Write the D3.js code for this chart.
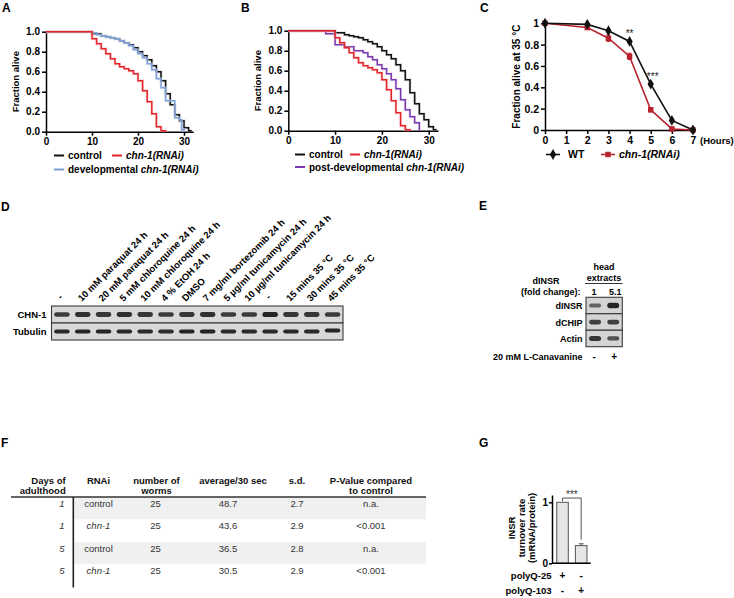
<!DOCTYPE html>
<html><head><meta charset="utf-8">
<script src="https://cdn.jsdelivr.net/npm/d3@7"></script>
<style>
body{margin:0;background:#fff;}
svg text{font-family:"Liberation Sans",Arial,Helvetica,sans-serif;}
</style></head><body>
<svg id="fig" width="734" height="598"></svg>
<script>
// ---------------- DATA ----------------
// Panels A/B: Kaplan-Meier survival (days of adulthood vs fraction alive)
const controlDays = [0,10,12,13,14,15,16,17,18,19,20,21,22,23,24,25,26,27,28,29,30,31,31.5];
const controlSurv = [1,0.98,0.96,0.95,0.94,0.93,0.91,0.89,0.87,0.84,0.80,0.76,0.72,0.66,0.60,0.51,0.38,0.27,0.17,0.11,0.04,0.01,0];
const chnDays = [0,10,11,12,13,14,15,16,17,18,19,20,21,22,23,24,25,26];
const chnSurv = [1,0.93,0.88,0.83,0.78,0.73,0.68,0.65,0.63,0.61,0.58,0.51,0.41,0.30,0.18,0.05,0.01,0];
const devDays = [0,10,11,12,13,14,15,16,17,18,19,20,21,22,23,24,25,26,28,29,29.5,30];
const devSurv = [1,0.99,0.97,0.96,0.95,0.94,0.93,0.91,0.89,0.86,0.82,0.78,0.74,0.68,0.62,0.53,0.44,0.31,0.14,0.12,0.02,0];
const postDays = [0,8,10,12,14,16,17,18,19,20,21,22,23,24,25,26,27,28];
const postSurv = [1,0.97,0.86,0.84,0.80,0.78,0.74,0.71,0.66,0.62,0.57,0.51,0.42,0.31,0.21,0.14,0.08,0];
const survTicksX = [0,10,20,30];
const survTicksY = [0,0.2,0.4,0.6,0.8,1.0];

// Panel C: heat stress survival
const heatHours = [0,2,3,4,5,6,7];
const heatWT = [1,0.99,0.93,0.83,0.43,0.09,0];
const heatWTerr = [0,0.01,0.01,0.01,0.015,0.01,0];
const heatChn = [1,0.96,0.86,0.69,0.19,0.01,0];
const heatChnErr = [0,0.015,0.03,0.03,0.02,0.01,0];
const heatTicksX = [0,1,2,3,4,5,6,7];
const heatTicksY = [0,0.2,0.4,0.6,0.8,1];
const heatSigHours = [4,5];
const heatSigY = [0.87,0.47];
const heatSigLabels = ["**","***"];

// Panel D: western blot
const blotDLanes = ["-","10 mM paraquat 24 h","20 mM paraquat 24 h","5 mM chloroquine 24 h","10 mM chloroquine 24 h","4 % EtOH 24 h","DMSO","7 mg/ml bortezomib 24 h","5 \u00b5g/ml tunicamycin 24 h","10 \u00b5g/ml tunicamycin 24 h","-","15 mins 35 \u00b0C","30 mins 35 \u00b0C","45 mins 35 \u00b0C"];
const blotDRows = ["CHN-1","Tubulin"];
const chnBand = [0.80,0.90,0.85,0.90,0.85,0.80,0.85,0.90,0.80,0.80,1.00,0.85,0.85,0.80];
const tubBand = [0.95,1.00,1.00,0.95,0.95,0.92,1.00,1.00,0.95,0.95,0.95,0.95,0.95,1.00];

// Panel E: western blot
const blotELanes = ["-","+"];
const blotEFold = ["1","5.1"];
const blotERows = ["dINSR","dCHIP","Actin"];
const dinsrBand = [0.45,1.0];
const dchipBand = [0.75,0.75];
const actinBand = [0.85,0.6];

// Panel F: table
const tableHeaders = [["Days of","adulthood"],["RNAi"],["number of","worms"],["average/30 sec"],["s.d."],["P-Value compared","to control"]];
const tblDays = ["1","1","5","5"];
const tblRNAi = ["control","chn-1","control","chn-1"];
const tblWorms = ["25","25","25","25"];
const tblAvg = ["48.7","43.6","36.5","30.5"];
const tblSD = ["2.7","2.9","2.8","2.9"];
const tblP = ["n.a.","<0.001","n.a.","<0.001"];

// Panel G: bar chart
const barGroups = ["polyQ-25","polyQ-103"];
const barValues = [1.0,0.29];
const barErrors = [0,0.03];
const polyQ25 = ["+","-"];
const polyQ103 = ["-","+"];

// ---------------- DRAW ----------------
const svg = d3.select("#fig");
svg.append("rect").attr("width",734).attr("height",598).attr("fill","#fff");

const BLACK="#111", RED="#e3242b", BLUE="#7f9fd8", PURPLE="#7a3aae", DRED="#b8222e";

function panelLabel(t,x,y){
  svg.append("text").attr("x",x).attr("y",y).attr("font-size",12).attr("font-weight","bold").text(t);
}
panelLabel("A",2,12); panelLabel("B",241,12); panelLabel("C",480,12);
panelLabel("D",1,211); panelLabel("E",479,210); panelLabel("F",1,447); panelLabel("G",479,447);

function styleAxis(g){
  g.selectAll("path.domain").attr("stroke","#000").attr("stroke-width",1.5);
  g.selectAll(".tick line").attr("stroke","#000").attr("stroke-width",1.5);
  g.selectAll(".tick text").attr("font-size",10).attr("font-weight","bold")
   .attr("font-family","'Liberation Sans',Arial,sans-serif").attr("fill","#000");
}

function survivalPanel(cfg){
  const x = d3.scaleLinear().domain([0,32]).range([cfg.x0, cfg.x0 + 32*cfg.dx]);
  const y = d3.scaleLinear().domain([0,1]).range([cfg.y0, cfg.y1]);
  const gx = svg.append("g").attr("transform",`translate(0,${cfg.y0})`)
    .call(d3.axisBottom(x).tickValues(survTicksX).tickFormat(d3.format("d")).tickSize(4).tickSizeOuter(0).tickPadding(2));
  styleAxis(gx);
  const gy = svg.append("g").attr("transform",`translate(${cfg.x0},0)`)
    .call(d3.axisLeft(y).tickValues(survTicksY).tickFormat(d3.format(".1f")).tickSize(4).tickSizeOuter(0).tickPadding(2));
  styleAxis(gy);
  svg.append("text").attr("transform",`translate(${cfg.ylabX},${(cfg.y0+cfg.y1)/2}) rotate(-90)`)
    .attr("text-anchor","middle").attr("font-size",9.5).attr("font-weight","bold").text("Fraction alive");
  const line = d3.line().x(d=>x(d[0])).y(d=>y(d[1])).curve(d3.curveStepAfter);
  cfg.series.forEach(s=>{
    const pts = s.days.map((d,i)=>[d,s.surv[i]]);
    svg.append("path").attr("d",line(pts)).attr("fill","none").attr("stroke",s.halo)
      .attr("stroke-width",3).attr("opacity",0.45);
    svg.append("path").attr("d",line(pts)).attr("fill","none").attr("stroke",s.color)
      .attr("stroke-width",1.5);
  });
  cfg.legend.forEach(l=>{
    svg.append("line").attr("x1",l.x).attr("x2",l.x+10).attr("y1",l.y-3.5).attr("y2",l.y-3.5)
      .attr("stroke",l.color).attr("stroke-width",2);
    const t = svg.append("text").attr("x",l.x+14).attr("y",l.y).attr("font-size",10).attr("font-weight","bold");
    if(l.pre) t.append("tspan").text(l.pre);
    t.append("tspan").attr("font-style","italic").text(l.it||"");
    if(l.plain) t.text(l.plain);
  });
}

survivalPanel({x0:46,dx:4.6,y0:131.7,y1:31.7,ylabX:19,
  series:[
    {days:controlDays,surv:controlSurv,color:BLACK,halo:"#bbb"},
    {days:devDays,surv:devSurv,color:BLUE,halo:"#cfdcf2"},
    {days:chnDays,surv:chnSurv,color:RED,halo:"#f6b6b8"}
  ],
  legend:[
    {x:54,y:159,color:BLACK,plain:"control"},
    {x:112,y:159,color:RED,it:"chn-1(RNAi)"},
    {x:54,y:173,color:BLUE,pre:"developmental ",it:"chn-1(RNAi)"}
  ]});

survivalPanel({x0:288.3,dx:4.68,y0:130.7,y1:30.7,ylabX:261,
  series:[
    {days:controlDays,surv:controlSurv,color:BLACK,halo:"#bbb"},
    {days:postDays,surv:postSurv,color:PURPLE,halo:"#d7c3ea"},
    {days:chnDays,surv:chnSurv,color:RED,halo:"#f6b6b8"}
  ],
  legend:[
    {x:295,y:158,color:BLACK,plain:"control"},
    {x:350,y:158,color:RED,it:"chn-1(RNAi)"},
    {x:295,y:170.5,color:PURPLE,pre:"post-developmental ",it:"chn-1(RNAi)"}
  ]});

// ---- Panel C ----
(function(){
  const x = d3.scaleLinear().domain([0,7]).range([545,693]);
  const y = d3.scaleLinear().domain([0,1]).range([130,23.3]);
  const gx = svg.append("g").attr("transform","translate(0,130)")
    .call(d3.axisBottom(x).tickValues(heatTicksX).tickFormat(d3.format("d")).tickSize(4).tickSizeOuter(0).tickPadding(3));
  styleAxis(gx); gx.selectAll(".tick text").attr("font-size",10.5);
  const gy = svg.append("g").attr("transform","translate(545,0)")
    .call(d3.axisLeft(y).tickValues(heatTicksY).tickFormat(d=>d===0||d===1?d3.format("d")(d):d3.format(".1f")(d)).tickSize(4).tickSizeOuter(0).tickPadding(2));
  styleAxis(gy); gy.selectAll(".tick text").attr("font-size",10.5);
  svg.append("text").attr("x",700).attr("y",143.5).attr("font-size",9.5).attr("font-weight","bold").text("(Hours)");
  svg.append("text").attr("transform",`translate(520,${(130+23.3)/2}) rotate(-90)`)
    .attr("text-anchor","middle").attr("font-size",10).attr("font-weight","bold").text("Fraction alive at 35 \u00b0C");
  const line = d3.line().x(d=>x(d[0])).y(d=>y(d[1]));
  const series = [
    {v:heatWT,e:heatWTerr,color:BLACK,sym:d3.symbolDiamond,size:34},
    {v:heatChn,e:heatChnErr,color:DRED,sym:d3.symbolSquare,size:30}
  ];
  series.slice().reverse().forEach(s=>{
    const pts = heatHours.map((h,i)=>[h,s.v[i]]);
    svg.append("path").attr("d",line(pts)).attr("fill","none").attr("stroke",s.color).attr("stroke-width",1.6);
    heatHours.forEach((h,i)=>{
      if(s.e[i]>0){
        const cx=x(h);
        svg.append("path").attr("d",`M${cx-2},${y(s.v[i]+s.e[i])}H${cx+2}M${cx},${y(s.v[i]+s.e[i])}V${y(s.v[i]-s.e[i])}M${cx-2},${y(s.v[i]-s.e[i])}H${cx+2}`)
          .attr("stroke",s.color).attr("stroke-width",1).attr("fill","none");
      }
      svg.append("path").attr("transform",`translate(${x(h)},${y(s.v[i])})`)
        .attr("d",d3.symbol().type(s.sym).size(s.size)()).attr("fill",s.color);
    });
  });
  heatSigHours.forEach((h,i)=>{
    svg.append("text").attr("x",x(h)+(i?2:0)).attr("y",y(heatSigY[i]))
      .attr("text-anchor","middle").attr("font-size",10).attr("fill","#222").text(heatSigLabels[i]);
  });
  const leg=[{x:546,color:BLACK,sym:d3.symbolDiamond,size:34,plain:"WT"},{x:601,color:DRED,sym:d3.symbolSquare,size:30,it:"chn-1(RNAi)"}];
  leg.forEach(l=>{
    svg.append("line").attr("x1",l.x).attr("x2",l.x+14).attr("y1",154.5).attr("y2",154.5).attr("stroke",l.color).attr("stroke-width",1.6);
    svg.append("path").attr("transform",`translate(${l.x+7},154.5)`).attr("d",d3.symbol().type(l.sym).size(l.size)()).attr("fill",l.color);
    const t=svg.append("text").attr("x",l.x+(l.plain?22:18)).attr("y",158).attr("font-size",10.5).attr("font-weight","bold");
    if(l.plain) t.text(l.plain); else t.attr("font-style","italic").text(l.it);
  });
})();

// ---- blot helper ----
const defs = svg.append("defs");
defs.append("filter").attr("id","blur").attr("x","-30%").attr("y","-100%").attr("width","160%").attr("height","300%")
  .append("feGaussianBlur").attr("stdDeviation",0.75);

function band(cx,cy,w,h,intensity){
  svg.append("rect").attr("x",cx-w/2).attr("y",cy-h/2).attr("width",w).attr("height",h).attr("rx",h/2)
    .attr("fill","#1b1b1b").attr("opacity",0.35+0.6*intensity).attr("filter","url(#blur)");
}

// ---- Panel D ----
(function(){
  const x = d3.scaleBand().domain(d3.range(blotDLanes.length)).range([51.5,343]);
  const rowY = d3.scaleBand().domain(blotDRows).range([306,340]);
  blotDRows.forEach(r=>{
    svg.append("rect").attr("x",51.5).attr("y",rowY(r)).attr("width",343-51.5).attr("height",rowY.bandwidth())
      .attr("fill","#d8d8d8").attr("stroke","#3a3a3a").attr("stroke-width",1.1);
    svg.append("text").attr("x",46.5).attr("y",rowY(r)+rowY.bandwidth()/2+3.5).attr("text-anchor","end")
      .attr("font-size",9.5).attr("font-weight","bold").text(r);
  });
  const vals = {"CHN-1":chnBand,"Tubulin":tubBand};
  blotDRows.forEach(r=>{
    vals[r].forEach((v,i)=>{
      const cx = x(i)+x.bandwidth()/2;
      const off = (r==="Tubulin" && i===blotDLanes.length-1)? -1 : 0;
      band(cx, rowY(r)+rowY.bandwidth()/2+off, 15.5, r==="Tubulin"?4.2:3.6+1.4*v, v);
    });
  });
  blotDLanes.forEach((l,i)=>{
    const cx = x(i)+x.bandwidth()/2;
    svg.append("text").attr("transform",`translate(${cx-1},${l==="-"?300:302}) rotate(-45)`)
      .attr("font-size",9.5).attr("font-weight","bold").text(l);
  });
})();

// ---- Panel E ----
(function(){
  const x = d3.scaleBand().domain(blotELanes).range([586,622.3]);
  const rowY = d3.scaleBand().domain(blotERows).range([297.3,346.7]);
  const vals = {dINSR:dinsrBand,dCHIP:dchipBand,Actin:actinBand};
  blotERows.forEach(r=>{
    svg.append("rect").attr("x",586).attr("y",rowY(r)).attr("width",36.3).attr("height",rowY.bandwidth())
      .attr("fill","#d4d4d4").attr("stroke","#3a3a3a").attr("stroke-width",1.1);
    svg.append("text").attr("x",582.5).attr("y",rowY(r)+rowY.bandwidth()/2+3.5).attr("text-anchor","end")
      .attr("font-size",9).attr("font-weight","bold").text(r);
    vals[r].forEach((v,i)=>{
      const cx = x(blotELanes[i])+x.bandwidth()/2;
      band(cx, rowY(r)+rowY.bandwidth()/2, 12, 2.5+3*v, v);
    });
  });
  svg.append("text").attr("x",604).attr("y",270).attr("text-anchor","middle").attr("font-size",9).attr("font-weight","bold").text("head");
  svg.append("text").attr("x",604).attr("y",280.5).attr("text-anchor","middle").attr("font-size",9).attr("font-weight","bold").text("extracts");
  svg.append("line").attr("x1",585).attr("x2",622.5).attr("y1",283.5).attr("y2",283.5).attr("stroke","#333").attr("stroke-width",1);
  svg.append("text").attr("x",546).attr("y",283.5).attr("text-anchor","middle").attr("font-size",9).attr("font-weight","bold").text("dINSR");
  svg.append("text").attr("x",580.5).attr("y",294.5).attr("text-anchor","end").attr("font-size",9).attr("font-weight","bold").text("(fold change):");
  blotEFold.forEach((f,i)=>{
    svg.append("text").attr("x",x(blotELanes[i])+x.bandwidth()/2+(i?2:-1)).attr("y",294.5).attr("text-anchor","middle").attr("font-size",9).attr("font-weight","bold").text(f);
  });
  svg.append("text").attr("x",582.5).attr("y",359.5).attr("text-anchor","end").attr("font-size",9).attr("font-weight","bold").text("20 mM L-Canavanine");
  blotELanes.forEach(l=>{
    svg.append("text").attr("x",x(l)+x.bandwidth()/2+(l==="+"?1:-1)).attr("y",359.5).attr("text-anchor","middle").attr("font-size",10).attr("font-weight","bold").text(l);
  });
})();

// ---- Panel F ----
(function(){
  const rowTop = d3.scaleBand().domain(d3.range(tblDays.length)).range([497,587]);
  rowTop.domain().forEach(i=>{
    if(i%2===0) svg.append("rect").attr("x",74).attr("y",rowTop(i)).attr("width",352).attr("height",22.3).attr("fill","#f0f0f0");
  });
  const cols = [
    {hx:65.7,anchor:"end",vx:64.5,vals:tblDays,style:"italic"},
    {hx:98.5,anchor:"middle",vx:98.5,vals:tblRNAi},
    {hx:156.5,anchor:"middle",vx:155.5,vals:tblWorms},
    {hx:233,anchor:"middle",vx:228,vals:tblAvg},
    {hx:297,anchor:"middle",vx:297,vals:tblSD},
    {hx:371,anchor:"middle",vx:371,vals:tblP}
  ];
  tableHeaders.forEach((h,ci)=>{
    h.forEach((line,li)=>{
      svg.append("text").attr("x",cols[ci].hx).attr("y",483.5+li*10.7).attr("text-anchor",cols[ci].anchor)
        .attr("font-size",9.5).attr("font-weight","bold").attr("fill","#111").text(line);
    });
  });
  svg.append("line").attr("x1",11).attr("x2",426).attr("y1",497).attr("y2",497).attr("stroke","#333").attr("stroke-width",1.3);
  svg.append("line").attr("x1",73.3).attr("x2",73.3).attr("y1",497).attr("y2",587.5).attr("stroke","#222").attr("stroke-width",1.6);
  cols.forEach((c,ci)=>{
    c.vals.forEach((v,ri)=>{
      const it = c.style==="italic" || (ci===1 && v==="chn-1");
      svg.append("text").attr("x",c.vx).attr("y",rowTop(ri)+9.8).attr("text-anchor",c.anchor)
        .attr("font-size",9.5).attr("fill","#333").attr("font-style",it?"italic":"normal").text(v);
    });
  });
})();

// ---- Panel G ----
(function(){
  const y = d3.scaleLinear().domain([0,1.12]).range([563.3,495]);
  const x = d3.scaleBand().domain(barGroups).range([553,590.7]).paddingInner(0.38).paddingOuter(0.2);
  barGroups.forEach((g,i)=>{
    svg.append("rect").attr("x",x(g)).attr("y",y(barValues[i])).attr("width",x.bandwidth()).attr("height",y(0)-y(barValues[i]))
      .attr("fill","#e6e6e6").attr("stroke","#555").attr("stroke-width",1);
    if(barErrors[i]>0){
      const cx=x(g)+x.bandwidth()/2;
      svg.append("path").attr("d",`M${cx-2.5},${y(barValues[i]+barErrors[i])}H${cx+2.5}M${cx},${y(barValues[i]+barErrors[i])}V${y(barValues[i])}`)
        .attr("stroke","#555").attr("stroke-width",1).attr("fill","none");
    }
  });
  const gy = svg.append("g").attr("transform","translate(552,0)")
    .call(d3.axisLeft(y).tickValues([0,1]).tickFormat(d3.format("d")).tickSize(3).tickSizeOuter(0).tickPadding(1));
  styleAxis(gy);
  svg.append("line").attr("x1",552).attr("x2",590.7).attr("y1",563.3).attr("y2",563.3).attr("stroke","#000").attr("stroke-width",1.5);
  const c1 = x(barGroups[0])+x.bandwidth()/2, c2 = x(barGroups[1])+x.bandwidth()/2;
  svg.append("path").attr("d",`M${c1},${y(barValues[0])-1}V${y(1.07)}H${c2}V${y(barValues[1]+barErrors[1])-4}`)
    .attr("fill","none").attr("stroke","#555").attr("stroke-width",1);
  svg.append("text").attr("x",(c1+c2)/2).attr("y",y(1.07)-0.5).attr("text-anchor","middle").attr("font-size",10).attr("fill","#333").text("***");
  const ylab = ["INSR","turnover rate","(mRNA/protein)"];
  ylab.forEach((t,i)=>{
    svg.append("text").attr("transform",`translate(${515+i*10},528) rotate(-90)`).attr("text-anchor","middle")
      .attr("font-size",9.5).attr("font-weight","bold").text(t);
  });
  [[ "polyQ-25",polyQ25,579],["polyQ-103",polyQ103,593.5]].forEach(r=>{
    svg.append("text").attr("x",551.5).attr("y",r[2]).attr("text-anchor","end").attr("font-size",9.5).attr("font-weight","bold").text(r[0]);
    barGroups.forEach((g,i)=>{
      svg.append("text").attr("x",x(g)+x.bandwidth()/2).attr("y",r[2]).attr("text-anchor","middle").attr("font-size",10).attr("font-weight","bold").text(r[1][i]);
    });
  });
})();
</script>
</body></html>
